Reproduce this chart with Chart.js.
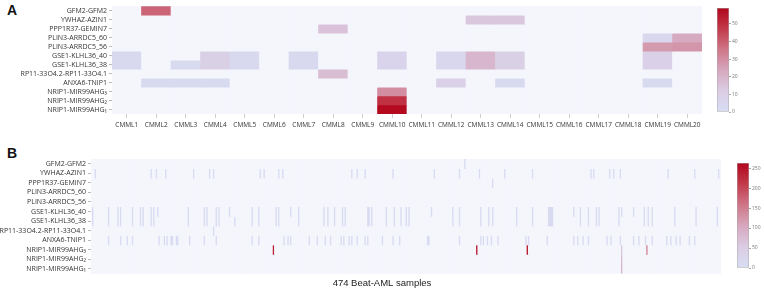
<!DOCTYPE html>
<html>
<head>
<meta charset="utf-8">
<title>Fusion read counts</title>
<script src="https://cdn.jsdelivr.net/npm/chart.js@4.4.1/dist/chart.umd.min.js"></script>
<style>
  html, body { margin: 0; padding: 0; background: #fff; }
  body { position: relative; width: 764px; height: 293px; overflow: hidden; }
  canvas { position: absolute; }
  .tag { position: absolute; left: 7px; font: bold 14px "Liberation Sans", Arial, sans-serif; line-height: 14px; color: #111; }
</style>
</head>
<body>
<div class="tag" style="top:3px">A</div>
<div class="tag" style="top:146px">B</div>
<canvas id="cmmlChart" style="left:0;top:0" width="764" height="135"></canvas>
<canvas id="cmmlScale" style="left:717px;top:0" width="40" height="120"></canvas>
<canvas id="amlChart" style="left:0;top:140px" width="764" height="153"></canvas>
<canvas id="amlScale" style="left:737px;top:140px" width="27" height="140"></canvas>
<script>
const geneFusions = ['GFM2-GFM2', 'YWHAZ-AZIN1', 'PPP1R37-GEMIN7', 'PLIN3-ARRDC5_60', 'PLIN3-ARRDC5_56',
  'GSE1-KLHL36_40', 'GSE1-KLHL36_38', 'RP11-33O4.2-RP11-33O4.1', 'ANXA6-TNIP1',
  'NRIP1-MIR99AHG₃', 'NRIP1-MIR99AHG₂', 'NRIP1-MIR99AHG₁'];

const cmmlSamples = ['CMML1', 'CMML2', 'CMML3', 'CMML4', 'CMML5', 'CMML6', 'CMML7', 'CMML8', 'CMML9', 'CMML10',
  'CMML11', 'CMML12', 'CMML13', 'CMML14', 'CMML15', 'CMML16', 'CMML17', 'CMML18', 'CMML19', 'CMML20'];

// CMML read counts per fusion, one value per sample
const cmmlGFM2    = [0, 39, 0, 0, 0, 0, 0, 0, 0, 0, 0, 0, 0, 0, 0, 0, 0, 0, 0, 0];
const cmmlYWHAZ   = [0, 0, 0, 0, 0, 0, 0, 0, 0, 0, 0, 0, 14, 14, 0, 0, 0, 0, 0, 0];
const cmmlPPP1R37 = [0, 0, 0, 0, 0, 0, 0, 15, 0, 0, 0, 0, 0, 0, 0, 0, 0, 0, 0, 0];
const cmmlPLIN3_60 = [0, 0, 0, 0, 0, 0, 0, 0, 0, 0, 0, 0, 0, 0, 0, 0, 0, 0, 5, 23];
const cmmlPLIN3_56 = [0, 0, 0, 0, 0, 0, 0, 0, 0, 0, 0, 0, 0, 0, 0, 0, 0, 0, 27, 28];
const cmmlGSE1_40 = [4, 0, 0, 10, 4, 0, 4, 0, 0, 7, 0, 5, 19, 10, 0, 0, 0, 0, 9, 0];
const cmmlGSE1_38 = [4, 0, 3, 10, 4, 0, 4, 0, 0, 7, 0, 5, 19, 10, 0, 0, 0, 0, 9, 0];
const cmmlRP11    = [0, 0, 0, 0, 0, 0, 0, 17, 0, 0, 0, 0, 0, 0, 0, 0, 0, 0, 0, 0];
const cmmlANXA6   = [0, 3, 3, 3, 0, 0, 0, 0, 0, 0, 0, 9, 0, 3, 0, 0, 0, 0, 3, 0];
const cmmlNRIP1_3 = [0, 0, 0, 0, 0, 0, 0, 0, 0, 30, 0, 0, 0, 0, 0, 0, 0, 0, 0, 0];
const cmmlNRIP1_2 = [0, 0, 0, 0, 0, 0, 0, 0, 0, 49, 0, 0, 0, 0, 0, 0, 0, 0, 0, 0];
const cmmlNRIP1_1 = [0, 0, 0, 0, 0, 0, 0, 0, 0, 58, 0, 0, 0, 0, 0, 0, 0, 0, 0, 0];

const amlSampleCount = 474;
// Beat-AML: [sample index, read count], non-zero cells only
const amlGFM2    = [[281, 10]];
const amlYWHAZ   = [[3, 8], [45, 8], [49, 8], [56, 8], [77, 8], [89, 8], [92, 8], [127, 8], [130, 8], [141, 8],
  [144, 8], [196, 8], [200, 8], [206, 8], [227, 8], [258, 8], [277, 8], [292, 8], [311, 8], [332, 8],
  [376, 8], [378, 8], [390, 8], [393, 8], [398, 8], [434, 8], [454, 8], [472, 8]];
const amlPPP1R37 = [[302, 8]];
const amlPLIN3_60 = [];
const amlPLIN3_56 = [];
const amlGSE1_40 = [[1, 8], [13, 8], [20, 8], [22, 8], [31, 8], [37, 8], [39, 8], [45, 8], [47, 10], [50, 8],
  [73, 8], [85, 8], [87, 8], [94, 8], [96, 8], [104, 8], [121, 8], [126, 8], [139, 8], [141, 8],
  [150, 8], [156, 8], [175, 8], [178, 8], [183, 8], [189, 8], [191, 8], [208, 10], [209, 10], [211, 8],
  [222, 8], [228, 8], [233, 8], [237, 8], [239, 8], [256, 12], [272, 8], [277, 8], [293, 8], [299, 8],
  [302, 8], [320, 8], [332, 8], [344, 12], [345, 12], [346, 12], [347, 12], [363, 8], [368, 8], [374, 8],
  [380, 8], [382, 8], [397, 8], [399, 8], [408, 8], [416, 8], [419, 8], [422, 8], [439, 8], [455, 8], [471, 8]];
const amlGSE1_38 = [[1, 8], [13, 8], [20, 8], [22, 8], [31, 8], [37, 8], [39, 8], [45, 8], [47, 10],
  [73, 8], [85, 8], [87, 8], [94, 8], [96, 8], [108, 8], [121, 8], [126, 8], [139, 8], [141, 8],
  [156, 8], [175, 8], [178, 8], [183, 8], [189, 8], [191, 8], [208, 10], [209, 10], [211, 8],
  [222, 8], [228, 8], [233, 8], [237, 8], [239, 8], [272, 8], [277, 8], [293, 8], [299, 8],
  [302, 8], [320, 8], [332, 8], [344, 12], [345, 12], [346, 12], [347, 12], [368, 8], [374, 8],
  [380, 8], [382, 8], [397, 8], [416, 8], [419, 8], [422, 8], [439, 8], [455, 8], [471, 8]];
const amlRP11    = [[92, 8]];
const amlANXA6   = [[13, 8], [22, 8], [27, 8], [31, 8], [51, 8], [55, 8], [57, 8], [60, 8], [61, 8], [64, 8],
  [65, 8], [74, 8], [85, 8], [94, 8], [121, 8], [126, 8], [145, 8], [148, 8], [150, 8], [164, 8],
  [170, 8], [176, 8], [180, 8], [188, 8], [190, 8], [194, 8], [196, 8], [200, 8], [206, 8], [208, 8],
  [219, 8], [227, 8], [232, 8], [253, 10], [254, 10], [277, 8], [293, 8], [295, 8], [298, 8], [301, 8],
  [306, 8], [327, 8], [329, 8], [343, 8], [363, 8], [366, 8], [370, 8], [374, 8], [388, 8], [391, 8],
  [398, 8], [408, 8], [412, 8], [417, 8], [422, 8], [433, 8], [436, 8], [440, 8], [443, 8], [450, 8], [454, 8]];
const amlNRIP1_3 = [[137, 235], [290, 245], [328, 250], [399, 60], [418, 145]];
const amlNRIP1_2 = [[399, 80]];
const amlNRIP1_1 = [[399, 90]];

const cmmlMax = 59;
const amlMax = 263;
const cmmlScaleTicks = [0, 10, 20, 30, 40, 50];
const amlScaleTicks = [0, 50, 100, 150, 200, 250];

const cmmlCounts = [cmmlGFM2, cmmlYWHAZ, cmmlPPP1R37, cmmlPLIN3_60, cmmlPLIN3_56, cmmlGSE1_40,
  cmmlGSE1_38, cmmlRP11, cmmlANXA6, cmmlNRIP1_3, cmmlNRIP1_2, cmmlNRIP1_1];

const amlSamples = Array.from({ length: amlSampleCount }, (_, i) => 'S' + (i + 1));
const amlCounts = [amlGFM2, amlYWHAZ, amlPPP1R37, amlPLIN3_60, amlPLIN3_56, amlGSE1_40,
  amlGSE1_38, amlRP11, amlANXA6, amlNRIP1_3, amlNRIP1_2, amlNRIP1_1].map(hits => {
  const row = new Array(amlSampleCount).fill(0);
  hits.forEach(([i, v]) => { row[i] = v; });
  return row;
});

// light blue -> pink -> dark red
const colorStops = [
  [0, [215, 222, 244]], [0.2, [219, 205, 228]], [0.4, [214, 168, 190]],
  [0.6, [207, 118, 136]], [0.8, [194, 58, 74]], [1, [178, 6, 28]]
];
const zeroColor = '#f4f6fc';
const labelFont = { family: '"Open Sans", sans-serif', size: 7 };

function heatColor(v, max) {
  if (!v) return zeroColor;
  const t = Math.min(v / max, 1);
  for (let i = 1; i < colorStops.length; i++) {
    if (t <= colorStops[i][0]) {
      const [t0, c0] = colorStops[i - 1];
      const [t1, c1] = colorStops[i];
      const f = (t - t0) / (t1 - t0);
      return 'rgb(' + c0.map((c, k) => Math.round(c + (c1[k] - c) * f)).join(',') + ')';
    }
  }
}

const plotBackground = {
  id: 'plotBackground',
  beforeDatasetsDraw(chart) {
    const { ctx, chartArea: a } = chart;
    ctx.save();
    ctx.fillStyle = zeroColor;
    ctx.fillRect(a.left, a.top, a.width, a.height);
    ctx.restore();
  }
};

function heatmap(id, columns, matrix, max, cfg) {
  const datasets = matrix.map((row, r) => ({
    data: row.map(() => [r, r + 1]),
    backgroundColor: row.map(v => heatColor(v, max)),
    borderWidth: 0,
    grouped: false,
    barPercentage: 1,
    categoryPercentage: 1
  }));

  const scales = {
    x: cfg.x,
    y: {
      type: 'linear',
      reverse: true,
      min: 0,
      max: geneFusions.length,
      afterBuildTicks: s => { s.ticks = geneFusions.map((_, i) => ({ value: i + 0.5 })); },
      afterFit: s => { s.width = cfg.yWidth; },
      ticks: {
        autoSkip: false,
        font: labelFont,
        color: '#333',
        padding: 2,
        callback: v => geneFusions[Math.floor(v)]
      },
      grid: { drawOnChartArea: false, tickLength: 3, color: '#bbb' },
      border: { display: false }
    }
  };
  if (cfg.rightGap) {
    // empty right-hand axis, keeps space for the colour bar
    scales.gap = {
      type: 'linear',
      position: 'right',
      ticks: { display: false },
      grid: { display: false },
      border: { display: false },
      afterFit: s => { s.width = cfg.rightGap; }
    };
  }

  return new Chart(document.getElementById(id), {
    type: 'bar',
    data: { labels: columns, datasets: datasets },
    plugins: [plotBackground],
    options: {
      responsive: false,
      animation: false,
      layout: { padding: cfg.padding },
      plugins: {
        legend: { display: false },
        tooltip: { enabled: false },
        title: cfg.title || { display: false }
      },
      scales: scales
    }
  });
}

function colorBar(id, max, tickValues, cfg) {
  return new Chart(document.getElementById(id), {
    type: 'bar',
    data: {
      labels: [''],
      datasets: [{
        data: [[0, max]],
        backgroundColor: ctx => {
          const { ctx: c, chartArea } = ctx.chart;
          if (!chartArea) return null;
          const g = c.createLinearGradient(0, chartArea.bottom, 0, chartArea.top);
          colorStops.forEach(([t, rgb]) => g.addColorStop(t, 'rgb(' + rgb.join(',') + ')'));
          return g;
        },
        borderColor: '#aaa',
        borderWidth: 0.8,
        borderSkipped: false,
        barPercentage: 1,
        categoryPercentage: 1
      }]
    },
    options: {
      responsive: false,
      animation: false,
      layout: { padding: cfg.padding },
      plugins: { legend: { display: false }, tooltip: { enabled: false } },
      scales: {
        x: { display: false },
        y: {
          position: 'right',
          min: 0,
          max: max,
          afterBuildTicks: s => { s.ticks = tickValues.map(v => ({ value: v })); },
          afterFit: s => { s.width = cfg.axisWidth; },
          ticks: { font: { family: '"Open Sans", sans-serif', size: 5 }, color: '#777', padding: 1 },
          grid: { drawOnChartArea: false, tickLength: 2, color: '#aaa' },
          border: { display: false }
        }
      }
    }
  });
}

heatmap('cmmlChart', cmmlSamples, cmmlCounts, cmmlMax, {
  padding: { left: 0, right: 62, top: 6, bottom: 0 },
  yWidth: 112,
  x: {
    grid: { offset: false, drawOnChartArea: false, tickLength: 4, color: '#ccc' },
    border: { display: false },
    ticks: { autoSkip: false, maxRotation: 0, font: { family: '"Open Sans", sans-serif', size: 6.5 }, color: '#333', padding: 3 },
    afterFit: s => { s.height = 21; }
  }
});

heatmap('amlChart', amlSamples, amlCounts, amlMax, {
  padding: { left: 0, right: 0, top: 19, bottom: 0 },
  yWidth: 91,
  rightGap: 43,
  x: { display: false },
  title: {
    display: true,
    position: 'bottom',
    text: '474 Beat-AML samples',
    color: '#222',
    font: { family: '"Liberation Sans", Arial, sans-serif', size: 9.5, weight: 'normal' },
    padding: { top: 4, bottom: 4 }
  }
});

colorBar('cmmlScale', cmmlMax, cmmlScaleTicks, { padding: { top: 8, bottom: 8 }, axisWidth: 28 });
colorBar('amlScale', amlMax, amlScaleTicks, { padding: { top: 23, bottom: 12 }, axisWidth: 15 });
</script>
</body>
</html>
